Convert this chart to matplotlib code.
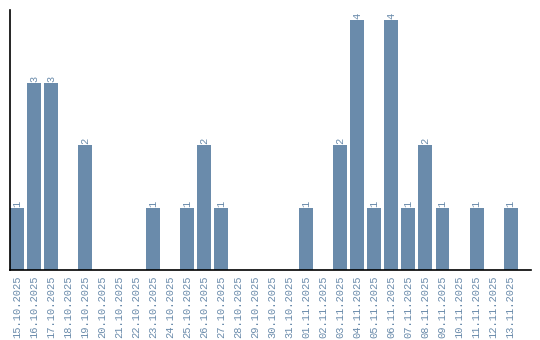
import matplotlib
matplotlib.use("Agg")
import matplotlib.pyplot as plt
import numpy as np

BAR_COLOR = "#6a8bab"

dates = [
    "15.10.2025", "16.10.2025", "17.10.2025", "18.10.2025", "19.10.2025",
    "20.10.2025", "21.10.2025", "22.10.2025", "23.10.2025", "24.10.2025",
    "25.10.2025", "26.10.2025", "27.10.2025", "28.10.2025", "29.10.2025",
    "30.10.2025", "31.10.2025", "01.11.2025", "02.11.2025", "03.11.2025",
    "04.11.2025", "05.11.2025", "06.11.2025", "07.11.2025", "08.11.2025",
    "09.11.2025", "10.11.2025", "11.11.2025", "12.11.2025", "13.11.2025",
]
counts = [1, 3, 3, 0, 2, 0, 0, 0, 1, 0, 1, 2, 1, 0, 0, 0, 0, 1, 0, 2,
          4, 1, 4, 1, 2, 1, 0, 1, 0, 1]

plt.rcParams["font.family"] = ["Liberation Mono", "DejaVu Sans Mono"]

fig = plt.figure(figsize=(5.4, 3.4), dpi=100, facecolor="white")
ax = fig.add_axes([10 / 540, 70 / 340, 521 / 540, 260 / 340])

x = np.arange(len(dates))
ax.bar(x, counts, width=0.82, color=BAR_COLOR)

for xi, c in zip(x, counts):
    if c > 0:
        ax.text(xi, c + 0.01, str(c), rotation=90, ha="center", va="bottom",
                color=BAR_COLOR, fontsize=7.5)

ax.set_xlim(-0.41, 30.2)
ax.set_ylim(0, 4.16)
ax.set_xticks(x)
ax.set_xticklabels(dates, rotation=90, color=BAR_COLOR, fontsize=7.5)
ax.set_yticks([])
ax.tick_params(axis="x", length=0, pad=4)

for s in ["top", "right"]:
    ax.spines[s].set_visible(False)
for s in ["left", "bottom"]:
    ax.spines[s].set_color("black")
    ax.spines[s].set_linewidth(1.2)

fig.savefig("out.png", dpi=100)
